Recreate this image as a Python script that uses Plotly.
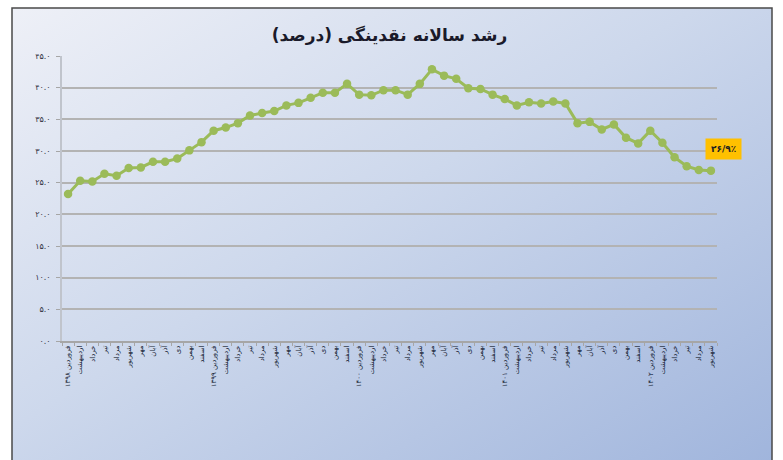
import base64
import plotly.graph_objects as go

title_text = "رشد سالانه نقدینگی (درصد)"
months = ["فروردین", "اردیبهشت", "خرداد", "تیر", "مرداد", "شهریور",
          "مهر", "آبان", "آذر", "دی", "بهمن", "اسفند"]
years = ["۱۳۹۸", "۱۳۹۹", "۱۴۰۰", "۱۴۰۱", "۱۴۰۲"]
growth = [23.2, 25.3, 25.2, 26.4, 26.1, 27.3, 27.4, 28.3, 28.3, 28.8,
          30.1, 31.4, 33.2, 33.7, 34.4, 35.6, 36.0, 36.3, 37.2, 37.6,
          38.4, 39.2, 39.2, 40.6, 38.9, 38.8, 39.6, 39.6, 38.9, 40.6,
          42.9, 41.9, 41.4, 39.9, 39.8, 38.9, 38.2, 37.2, 37.7, 37.5,
          37.8, 37.5, 34.4, 34.6, 33.4, 34.2, 32.1, 31.2, 33.2, 31.3,
          29.0, 27.6, 27.0, 26.9]
ytick_vals = [0, 5, 10, 15, 20, 25, 30, 35, 40, 45]
ytick_text = ["۰.۰", "۵.۰", "۱۰.۰", "۱۵.۰", "۲۰.۰", "۲۵.۰", "۳۰.۰", "۳۵.۰", "۴۰.۰", "۴۵.۰"]
last_label = "۲۶/۹٪"

x_idx = list(range(len(growth)))
x_labels = []
for i in x_idx:
    m = months[i % 12]
    if i % 12 == 0:
        x_labels.append(m + " " + years[i // 12])
    else:
        x_labels.append(m)

# background gradient (decorative)
svg = ('<svg xmlns="http://www.w3.org/2000/svg" width="760" height="462" preserveAspectRatio="none">'
       '<defs><linearGradient id="g" x1="0" y1="0" x2="1" y2="1">'
       '<stop offset="0" stop-color="#eef0f7"/><stop offset="0.45" stop-color="#cdd8ec"/>'
       '<stop offset="1" stop-color="#9fb4dc"/></linearGradient></defs>'
       '<rect width="760" height="462" fill="url(#g)"/></svg>')
src = "data:image/svg+xml;base64," + base64.b64encode(svg.encode()).decode()

L, R, T, B = 62, 717, 56, 341
W, H = 783, 460
def px(x):
    return (x - L) / (R - L)
def py(y):
    return (B - y) / (B - T)

fig = go.Figure()
fig.add_trace(go.Scatter(
    x=x_idx, y=growth, mode="lines+markers",
    line=dict(color="#9bbb59", width=3),
    marker=dict(color="#9bbb59", size=8.5),
    hoverinfo="skip", showlegend=False, cliponaxis=False,
))

fig.add_annotation(
    x=x_idx[-1], y=growth[-1], xref="x", yref="y",
    text="<b>" + last_label + "</b>", showarrow=False,
    xanchor="left", yanchor="middle", xshift=-6, yshift=22,
    bgcolor="#ffc000", borderpad=5,
    font=dict(family="DejaVu Sans", size=9, color="#222222"),
)

fig.add_layout_image(dict(
    source=src, xref="paper", yref="paper",
    x=px(12), y=py(8), sizex=px(772) - px(12), sizey=py(8) - py(475),
    xanchor="left", yanchor="top", sizing="stretch", layer="below",
))
fig.add_shape(type="rect", xref="paper", yref="paper",
              x0=px(12), x1=px(772), y0=py(475), y1=py(8),
              line=dict(color="#4a4a4a", width=1.5), fillcolor="rgba(0,0,0,0)",
              layer="below")

fig.update_layout(
    width=W, height=H,
    margin=dict(l=L, r=W - R, t=T, b=H - B),
    paper_bgcolor="white", plot_bgcolor="white",
    title=dict(text="<b>" + title_text + "</b>", x=0.5, xref="paper", xanchor="center",
               y=1 - 35 / H, yref="container", yanchor="middle",
               font=dict(family="DejaVu Sans", size=17, color="#1a1a2a")),
    xaxis=dict(
        range=[-0.5, len(growth) - 0.5], tickmode="array", tickvals=x_idx, ticktext=x_labels,
        tickangle=-90, tickfont=dict(family="DejaVu Sans", size=7, color="#141c33"),
        showgrid=False, zeroline=False, showline=True, linecolor="#a6a6a6", linewidth=1.5,
        ticks="", minor=dict(ticks="outside", tick0=-0.5, dtick=1, ticklen=3, tickcolor="#a6a6a6"),
    ),
    yaxis=dict(
        range=[0, 45], tickmode="array", tickvals=ytick_vals, ticktext=ytick_text,
        tickfont=dict(family="DejaVu Sans", size=8, color="#333344"),
        showgrid=True, gridcolor="#b3b3b3", gridwidth=2, zeroline=False,
        showline=True, linecolor="#c0c4cc", linewidth=1.5,
        ticks="outside", ticklen=4, tickcolor="#a6a6a6", ticklabelstandoff=4,
    ),
)

fig.write_html("out.html", config={"displayModeBar": False},
               post_script="document.body.style.margin='0';document.body.style.overflow='hidden';")
